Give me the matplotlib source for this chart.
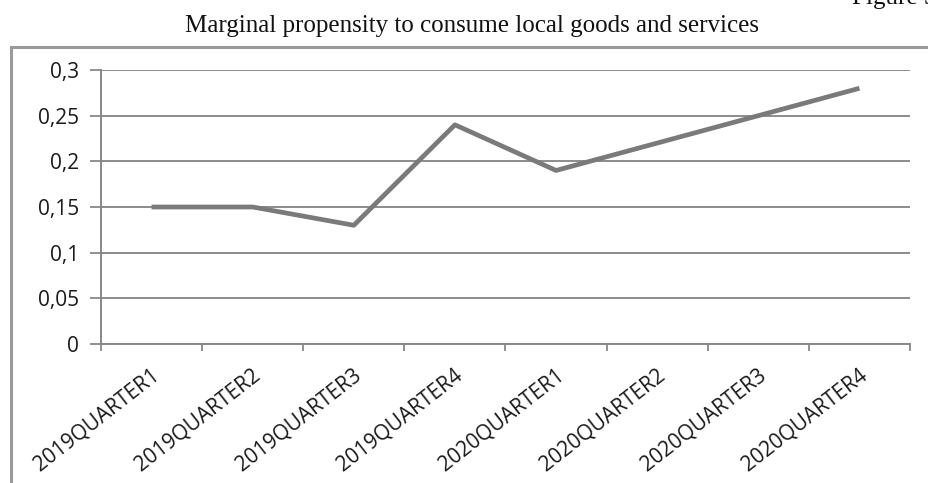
import matplotlib
matplotlib.use("Agg")
import matplotlib.pyplot as plt
from matplotlib.patches import Rectangle
from matplotlib.ticker import FixedLocator, FuncFormatter
import matplotlib.transforms as mtransforms

categories = ["2019QUARTER1", "2019QUARTER2", "2019QUARTER3", "2019QUARTER4",
              "2020QUARTER1", "2020QUARTER2", "2020QUARTER3", "2020QUARTER4"]
values = [0.15, 0.15, 0.13, 0.24, 0.19, 0.22, 0.25, 0.28]
yticks = [0, 0.05, 0.1, 0.15, 0.2, 0.25, 0.3]
ytick_labels = ["0", "0,05", "0,1", "0,15", "0,2", "0,25", "0,3"]

fig = plt.figure(figsize=(9.29, 4.83), dpi=100)
W, H = 929, 483

# outer frame
fig.patches.append(Rectangle((11 / W, -0.1), 1.0, 1 - 47 / H + 0.1, transform=fig.transFigure,
                             fill=False, edgecolor="#9a9a9a", linewidth=2.2))

ax = fig.add_axes([101 / W, 1 - 344 / H, (910 - 101) / W, (344 - 70) / H])
x = [i + 0.5 for i in range(len(categories))]
ax.plot(x, values, color="#7a7a7a", linewidth=3.4, solid_capstyle="butt", zorder=3)

ax.set_xlim(0, len(categories))
ax.set_ylim(0, 0.3)
ax.set_yticks(yticks)
ax.set_yticklabels(ytick_labels)
ax.xaxis.set_major_locator(FixedLocator(list(range(len(categories) + 1))))
ax.xaxis.set_major_formatter(FuncFormatter(lambda v, p: ""))
ax.xaxis.set_minor_locator(FixedLocator(x))
ax.set_xticklabels(categories, minor=True)
ax.tick_params(axis="x", which="minor", length=0, pad=15)
offset = mtransforms.ScaledTranslation(-1 / 100, 0, fig.dpi_scale_trans)
for lab in ax.get_xticklabels(minor=True):
    lab.set_rotation(38)
    lab.set_ha("right")
    lab.set_va("top")
    lab.set_rotation_mode("anchor")
    lab.set_fontfamily("Open Sans")
    lab.set_fontsize(15)
    lab.set_color("#1a1a1a")
    lab.set_transform(lab.get_transform() + offset)
ax.tick_params(axis="x", which="major", direction="out", length=5, width=1.3, color="#888888")
ax.tick_params(axis="y", direction="out", length=8, width=1.3, color="#888888", pad=8)
for lab in ax.get_yticklabels():
    lab.set_fontfamily("Open Sans")
    lab.set_fontsize(15)
    lab.set_color("#1a1a1a")

ax.grid(axis="y", color="#8c8c8c", linewidth=1.4)
ax.set_axisbelow(True)
for s in ["top", "right"]:
    ax.spines[s].set_visible(False)
for s in ["left", "bottom"]:
    ax.spines[s].set_color("#888888")
    ax.spines[s].set_linewidth(1.4)

fig.text(472 / W, 1 - 32 / H, "Marginal propensity to consume local goods and services",
         ha="center", va="baseline", fontfamily="Liberation Serif", fontsize=18, color="#111111")
fig.text(852 / W, 1 - 4 / H, "Figure 5", ha="left", va="baseline",
         fontfamily="Liberation Serif", fontsize=18, color="#111111")

fig.savefig("out.png", dpi=100)
